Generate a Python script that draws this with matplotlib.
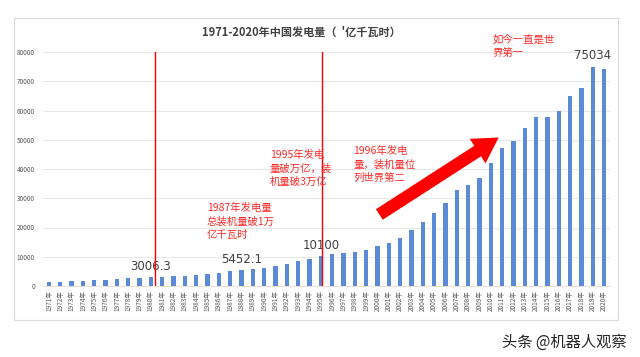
import numpy as np
import matplotlib.pyplot as plt
from matplotlib.patches import FancyArrowPatch, Rectangle

plt.rcParams['font.family'] = ['Noto Sans CJK SC', 'DejaVu Sans']

# 1971-2020 年发电量（亿千瓦时）
years = list(range(1971, 2021))
values = [1384, 1524, 1668, 1688, 1958, 2031, 2234, 2566, 2820, 3006.3,
          3093, 3277, 3514, 3770, 4107, 4495, 4973, 5452.1, 5848, 6212,
          6775, 7539, 8395, 9281, 10100, 10813, 11356, 11670, 12393, 13556,
          14808, 16540, 19106, 22033, 24850, 28490, 32820, 34530, 36900, 42000,
          47150, 49700, 54150, 57700, 57800, 59800, 64800, 67700, 75034, 74100]
tick_labels = [f"{y}年" for y in years]
labeled = {"1980": "3006.3", "1988": "5452.1", "1995": "10100", "2019": "75034"}

title = "1971-2020年中国发电量（  '亿千瓦时）"
notes = [
    ("1987年发电量\n总装机量破1万\n亿千瓦时", 207, 203),
    ("1995年发电\n量破万亿，装\n机量破3万亿", 270, 150),
    ("1996年发电\n量，装机量位\n列世界第二", 353, 146),
    ("如今一直是世\n界第一", 493, 34),
]

fig = plt.figure(figsize=(6.4, 3.57), dpi=100)
W, H = 640, 357

# outer chart frame
fig.patches.append(Rectangle((14 / W, 1 - 320 / H), 604 / W, 302 / H,
                             transform=fig.transFigure, fill=False,
                             edgecolor='#d9d9d9', lw=0.8))

ax = fig.add_axes([43.3 / W, 1 - 286 / H, 566.4 / W, 234 / H])
x = np.arange(len(years))
ax.bar(x, values, width=0.38, color='#5b8ad6', zorder=3)
ax.set_xlim(-0.5, len(years) - 0.5)
ax.set_ylim(0, 80000)
ax.set_yticks(range(0, 80001, 10000))
ax.tick_params(axis='y', labelsize=4.6, colors='#595959', length=0, pad=6)
ax.set_xticks(x)
ax.set_xticklabels(tick_labels, rotation=90, fontsize=4.6, color='#595959')
ax.tick_params(axis='x', length=0, pad=3)
ax.grid(axis='y', color='#e3e3e3', lw=0.6, zorder=0)
for s in ['top', 'right', 'left']:
    ax.spines[s].set_visible(False)
ax.spines['bottom'].set_color('#e6d8c8')
ax.spines['bottom'].set_linewidth(0.6)

for i, y in enumerate(years):
    if str(y) in labeled:
        ax.annotate(labeled[str(y)], (i, values[i]), xytext=(0, 3),
                    textcoords='offset points', ha='center', va='bottom',
                    fontsize=8.5, color='#404040', family='DejaVu Sans')

# red marker lines
ax.axvline(9.35, color='#ff0000', lw=1.0, zorder=4)
ax.axvline(24.1, color='#ff0000', lw=1.0, zorder=4)

fig.text(301 / W, 1 - 32 / H, title, ha='center', va='center',
         fontsize=8, fontweight='bold', color='#404040')

for txt, px, py in notes:
    fig.text(px / W, 1 - py / H, txt, ha='left', va='top', fontsize=7.5,
             color='#ff2a2a', linespacing=1.4)

arrow = FancyArrowPatch((377 / W, 1 - 216 / H), (501 / W, 1 - 136 / H),
                        transform=fig.transFigure,
                        arrowstyle='simple,head_width=21,head_length=18,tail_width=9',
                        mutation_scale=1, color='#ff0000', lw=0)
fig.patches.append(arrow)

fig.text(627 / W, 1 - 342 / H, "头条 @机器人观察", ha='right', va='center',
         fontsize=11, color='#262626')

fig.savefig('out.png', dpi=100)
